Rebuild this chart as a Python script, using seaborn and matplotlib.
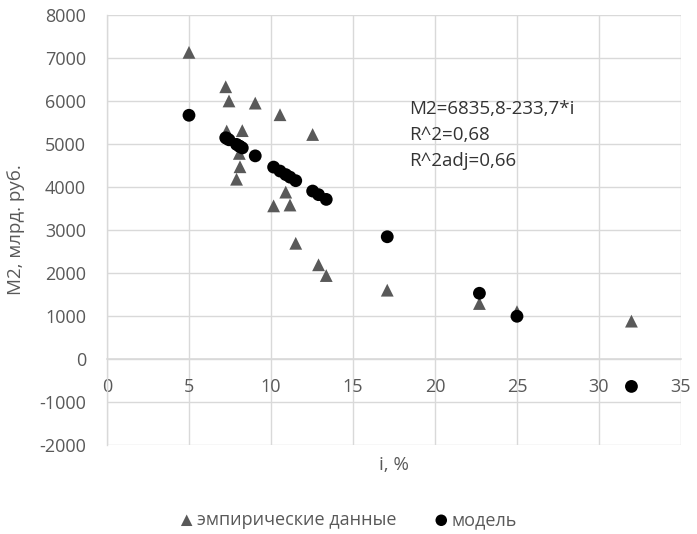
import matplotlib
matplotlib.use("Agg")
import matplotlib.pyplot as plt
import seaborn as sns
import pandas as pd

# Interest rate, %
rate = [5.0, 7.24, 7.44, 9.04, 10.55, 12.54, 8.25, 7.3, 8.07, 8.11, 7.9,
        10.9, 10.16, 11.16, 11.51, 12.9, 13.37, 17.09, 22.71, 25.0, 31.98]
# Observed money supply M2, bn rub.
m2_empirical = [7130, 6330, 6000, 5950, 5680, 5220, 5310, 5300, 4780, 4470, 4180,
                3880, 3560, 3580, 2690, 2190, 1940, 1600, 1290, 1100, 880]
# Fitted values of the linear model M2 = 6835.8 - 233.7*i
m2_model = [5667, 5144, 5097, 4723, 4370, 3905, 4908, 5130, 4950, 4940, 4990,
            4288, 4462, 4228, 4146, 3821, 3711, 2842, 1528, 993, -638]

series_labels = ["эмпирические данные", "модель"]
equation_text = "M2=6835,8-233,7*i\nR^2=0,68\nR^2adj=0,66"
x_title = "i, %"
y_title = "M2, млрд. руб."

emp = pd.DataFrame({"i": rate, "M2": m2_empirical})
mod = pd.DataFrame({"i": rate, "M2": m2_model})

sns.set_theme(style="white")
plt.rcParams["font.family"] = ["Open Sans", "DejaVu Sans"]
plt.rcParams["axes.unicode_minus"] = False

fig = plt.figure(figsize=(6.97, 5.34), dpi=100)
ax = fig.add_axes([0.1535, 0.1667, 0.977 - 0.1535, 0.972 - 0.1667])

grid_c = "#d9d9d9"
text_c = "#595959"

sns.scatterplot(data=emp, x="i", y="M2", ax=ax, marker="^", s=85,
                color="#595959", edgecolor="none", label=series_labels[0], zorder=3)
sns.scatterplot(data=mod, x="i", y="M2", ax=ax, marker="o", s=85,
                color="#000000", edgecolor="none", label=series_labels[1], zorder=4)

ax.set_xlim(0, 35)
ax.set_ylim(-2000, 8000)
ax.set_xticks(range(0, 36, 5))
ax.set_yticks(range(-2000, 8001, 1000))

ax.grid(True, color=grid_c, linewidth=1)
ax.set_axisbelow(True)
for side in ("top", "right"):
    ax.spines[side].set_visible(False)
ax.spines["left"].set_color(grid_c)
ax.spines["bottom"].set_color(grid_c)
ax.spines["bottom"].set_position(("data", 0))
ax.spines["left"].set_linewidth(1)
ax.spines["bottom"].set_linewidth(1.2)

ax.tick_params(axis="both", length=0, labelsize=13, colors=text_c)
ax.tick_params(axis="x", pad=14)
ax.tick_params(axis="y", pad=15)

ax.set_xlabel("")
ax.set_ylabel("")
fig.text((0.1535 + 0.977) / 2, 1 - 465 / 534, x_title, ha="center", va="center",
         fontsize=13.5, color=text_c)
fig.text(16 / 697, 1 - 230 / 534, y_title, ha="center", va="center",
         rotation=90, fontsize=13.5, color=text_c)

ax.text(18.45, 6030, equation_text, ha="left", va="top", fontsize=13.5,
        color="#333333", linespacing=1.6)

handles, labels = ax.get_legend_handles_labels()
ax.legend_.remove()
fig.legend(handles, labels, loc="center", bbox_to_anchor=(0.498, 1 - 520 / 534),
           ncol=2, frameon=False, fontsize=13, labelcolor=text_c,
           handletextpad=0.05, columnspacing=2.0, handlelength=1.0, markerscale=0.9)

fig.savefig("out.png", dpi=100)
